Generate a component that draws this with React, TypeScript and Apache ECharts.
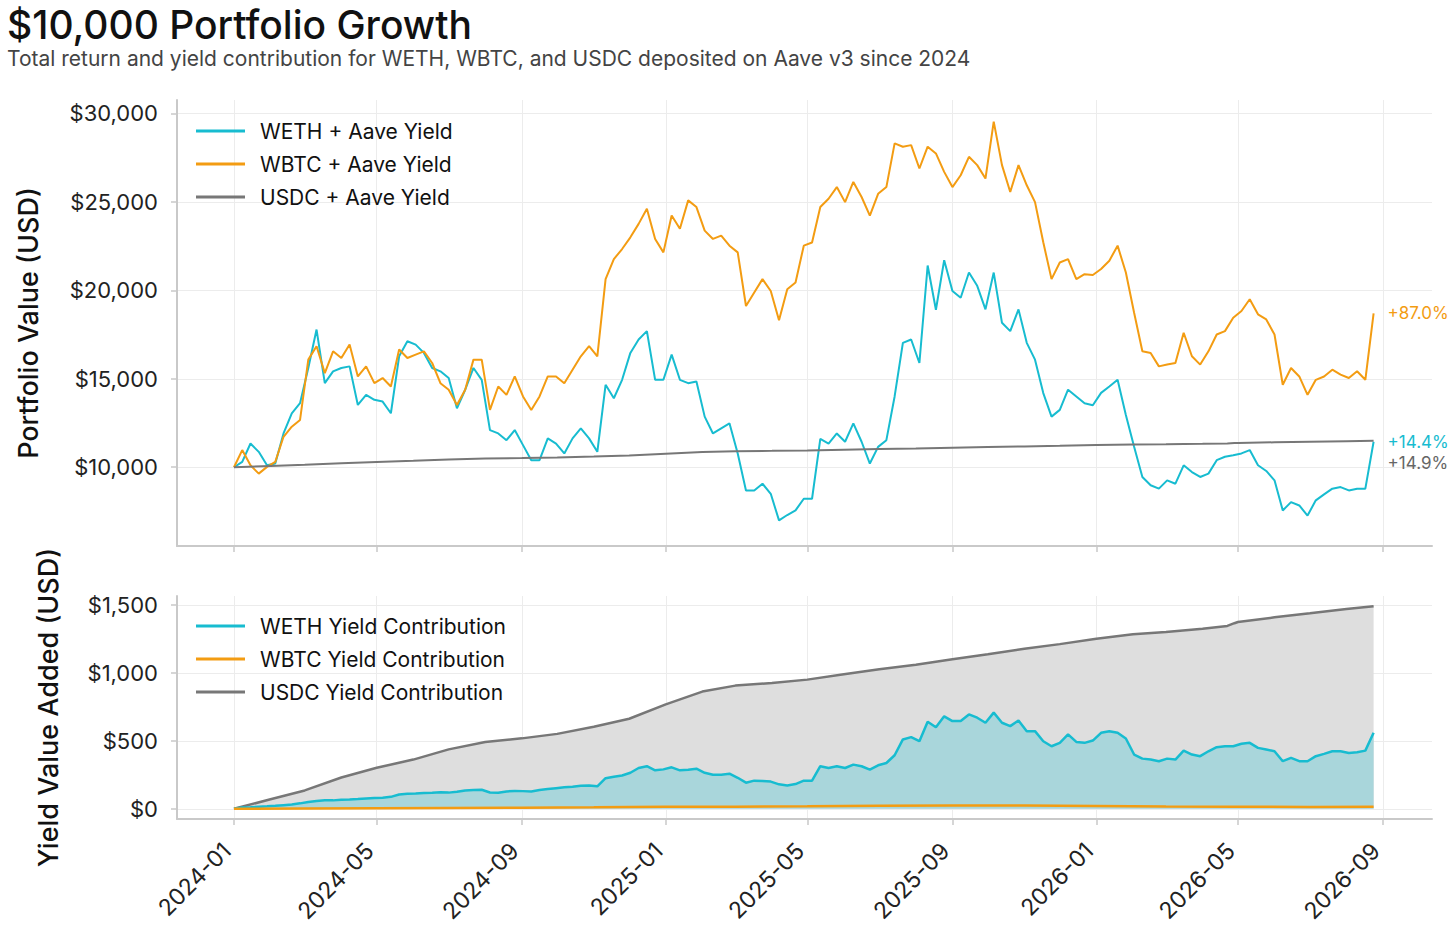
import React, { useEffect, useRef } from "react";
import * as echarts from "echarts";

const FONT = "Inter, 'Noto Sans', 'DejaVu Sans', sans-serif";

// ---- data ----
const weeklyStart = "2024-01-01"; // weekly samples, 7 days apart

const wethValue = [
  10000, 10300, 11340, 10870, 10110, 10210, 11910, 13050, 13620, 15610,
  17780, 14750, 15420, 15610, 15700, 13520, 14090, 13810, 13710, 13050,
  16270, 17120, 16930, 16460, 15610, 15420, 15040, 13330, 14380, 15610,
  14940, 12100, 11910, 11530, 12100, 11250, 10400, 10400, 11630, 11340,
  10780, 11630, 12200, 11630, 10870, 14660, 13900, 14940, 16460, 17220,
  17690, 14940, 14940, 16360, 14940, 14750, 14850, 12860, 11910, 12200,
  12480, 10780, 8690, 8690, 9070, 8500, 7000, 7300, 7560, 8220,
  8220, 11600, 11340, 11910, 11440, 12480, 11440, 10210, 11150, 11530,
  14000, 17030, 17220, 15890, 21400, 18900, 21700, 19960, 19580, 21000,
  20250, 18920, 21000, 18160, 17690, 18920, 17030, 16080, 14190, 12860,
  13240, 14380, 14000, 13620, 13500, 14200, 14560, 14940, 12950, 11160,
  9450, 8980, 8790, 9260, 9070, 10110, 9730, 9450, 9640, 10400,
  10590, 10680, 10780, 10970, 10110, 9790, 9260, 7560, 8030, 7840,
  7270, 8130, 8470, 8790, 8880, 8690, 8790, 8790, 11440,
];

const wbtcValue = [
  10000, 10970, 10110, 9640, 10020, 10300, 11720, 12290, 12670, 16080,
  16840, 15320, 16550, 16170, 16930, 15130, 15700, 14750, 15040, 14560,
  16650, 16170, 16360, 16550, 15890, 14750, 14380, 13520, 14380, 16080,
  16080, 13240, 14560, 14090, 15130, 14000, 13240, 14000, 15130, 15130,
  14750, 15510, 16270, 16840, 16270, 20630, 21760, 22330, 22990, 23750,
  24600, 22900, 22140, 24220, 23470, 25080, 24700, 23370, 22900, 23090,
  22520, 22140, 19110, 19870, 20630, 19960, 18300, 20060, 20440, 22520,
  22700, 24700, 25170, 25830, 24980, 26120, 25270, 24220, 25450, 25830,
  28300, 28110, 28200, 26880, 28110, 27730, 26690, 25830, 26500, 27540,
  27070, 26310, 29530, 27070, 25550, 27070, 25930, 24980, 22710, 20630,
  21570, 21760, 20630, 20910, 20860, 21200, 21670, 22520, 21000, 18730,
  16550, 16460, 15700, 15800, 15890, 17600, 16270, 15800, 16550, 17500,
  17690, 18450, 18830, 19490, 18640, 18350, 17500, 14660, 15610, 15130,
  14090, 14940, 15130, 15510, 15230, 15040, 15420, 14940, 18700,
];

const wethYield = [
  0, 10, 12, 15, 18, 22, 27, 32, 40, 50,
  58, 63, 62, 67, 69, 72, 76, 79, 82, 88,
  105, 111, 113, 116, 118, 121, 119, 125, 135, 138,
  140, 120, 118, 128, 131, 130, 128, 138, 146, 152,
  158, 162, 170, 172, 165, 225, 236, 245, 265, 300,
  313, 283, 290, 305, 283, 288, 295, 265, 251, 251,
  258, 228, 192, 207, 205, 200, 180, 172, 182, 207,
  207, 313, 300, 313, 300, 325, 313, 288, 320, 337,
  394, 510, 527, 497, 640, 600, 680, 645, 645, 694,
  670, 633, 707, 633, 608, 650, 571, 571, 497, 460,
  485, 547, 492, 485, 502, 559, 571, 559, 517, 399,
  369, 362, 350, 369, 362, 428, 399, 387, 423, 453,
  460, 460, 478, 485, 448, 436, 423, 350, 374, 350,
  350, 387, 404, 423, 423, 411, 416, 428, 559,
];

const usdcDates = [
  "2024-01-01", "2024-02-01", "2024-03-01", "2024-04-01", "2024-05-01", "2024-06-01",
  "2024-07-01", "2024-08-01", "2024-09-01", "2024-10-01", "2024-11-01", "2024-12-01",
  "2025-01-01", "2025-02-01", "2025-03-01", "2025-04-01", "2025-05-01", "2025-06-01",
  "2025-07-01", "2025-08-01", "2025-09-01", "2025-10-01", "2025-11-01", "2025-12-01",
  "2026-01-01", "2026-02-01", "2026-03-01", "2026-04-01", "2026-04-22", "2026-04-28",
  "2026-05-01", "2026-06-01", "2026-07-01", "2026-08-01", "2026-08-24",
];
const usdcValue = [
  10000, 10070, 10135, 10230, 10302, 10362,
  10437, 10492, 10518, 10551, 10603, 10662,
  10768, 10862, 10906, 10925, 10950, 10990,
  11026, 11060, 11100, 11137, 11177, 11211,
  11251, 11283, 11300, 11325, 11345, 11365,
  11374, 11408, 11438, 11470, 11490,
];
const usdcYield = [
  0, 70, 135, 230, 302, 362,
  437, 492, 518, 551, 603, 662,
  768, 862, 906, 925, 950, 990,
  1026, 1060, 1100, 1137, 1177, 1211,
  1251, 1283, 1300, 1325, 1345, 1365,
  1374, 1408, 1438, 1470, 1490,
];

const wbtcYieldDates = [
  "2024-01-01", "2024-03-01", "2024-05-01", "2024-07-01", "2024-09-01", "2024-11-01",
  "2025-01-01", "2025-03-01", "2025-05-01", "2025-07-01", "2025-09-01", "2025-11-01",
  "2026-01-01", "2026-03-01", "2026-05-01", "2026-07-01", "2026-08-24",
];
const wbtcYield = [0, 2, 4, 6, 8, 11, 15, 16, 18, 22, 25, 24, 21, 17, 16, 14, 15];

const xTickLabels = [
  "2024-01", "2024-05", "2024-09", "2025-01", "2025-05",
  "2025-09", "2026-01", "2026-05", "2026-09",
];
const yTicksTop = [10000, 15000, 20000, 25000, 30000];
const yTicksBottom = [0, 500, 1000, 1500];

const topNames = ["WETH + Aave Yield", "WBTC + Aave Yield", "USDC + Aave Yield"];
const bottomNames = ["WETH Yield Contribution", "WBTC Yield Contribution", "USDC Yield Contribution"];

// ---- styling ----
const CYAN = "#17bcd0";
const ORANGE = "#f39c12";
const GRAY = "#777777";
const AXIS = "#c9c9c9";
const GRID = "#ececec";

const DAY = 86400000;
const ts = (s: string) => Date.parse(s + "T00:00:00Z");
const weekly = (vals: number[]) => vals.map((v, i) => [ts(weeklyStart) + i * 7 * DAY, v]);
const dated = (dates: string[], vals: number[]) => vals.map((v, i) => [ts(dates[i]), v]);
const pct = (vals: number[]) => {
  const p = (vals[vals.length - 1] / vals[0] - 1) * 100;
  return (p >= 0 ? "+" : "") + p.toFixed(1) + "%";
};
const money = (v: number) => "$" + Math.round(v).toLocaleString("en-US");
const ym = (v: number) => {
  const d = new Date(v);
  return d.getUTCFullYear() + "-" + String(d.getUTCMonth() + 1).padStart(2, "0");
};

export default function App() {
  const ref = useRef<HTMLDivElement>(null);

  useEffect(() => {
    if (!ref.current) return;
    const chart = echarts.init(ref.current, undefined, { renderer: "svg" });

    const xMin = ts("2023-11-13") + 17 * 3600000;
    const xMax = ts("2026-10-12") + 12 * 3600000;
    const xTickVals = xTickLabels.map((l) => ts(l + "-01"));

    const xAxisBase = (idx: number, showLabels: boolean) => ({
      type: "value",
      gridIndex: idx,
      min: xMin,
      max: xMax,
      scale: true,
      axisLine: { show: true, onZero: false, lineStyle: { color: AXIS, width: 2 } },
      axisTick: { show: true, customValues: xTickVals, length: 6, lineStyle: { color: AXIS, width: 1.5 } },
      splitLine: { show: true, lineStyle: { color: GRID, width: 1 } },
      axisLabel: {
        show: showLabels,
        customValues: xTickVals,
        formatter: (v: number) => ym(v),
        rotate: 45,
        fontSize: 23,
        color: "#222",
        fontFamily: FONT,
        margin: 21,
        padding: [0, 10, 0, 0],
      },
    });

    const yAxisBase = (idx: number, min: number, max: number, ticks: number[], name: string, gap: number) => ({
      type: "value",
      gridIndex: idx,
      min,
      max,
      name,
      nameLocation: "middle",
      nameGap: gap,
      nameTextStyle: { fontSize: 27, fontWeight: 500, color: "#111", fontFamily: FONT },
      axisLine: { show: true, onZero: false, lineStyle: { color: AXIS, width: 2 } },
      axisTick: { show: true, customValues: ticks, length: 6, lineStyle: { color: AXIS, width: 1.5 } },
      splitLine: { show: true, lineStyle: { color: GRID, width: 1 } },
      axisLabel: {
        customValues: ticks,
        formatter: (v: number) => money(v),
        fontSize: 22,
        color: "#222",
        fontFamily: FONT,
        margin: 19,
      },
    });

    const endLbl = (text: string, color: string, offset: number[] = [0, 0]) => ({
      show: true,
      formatter: text,
      color,
      fontSize: 17,
      fontFamily: FONT,
      distance: 14,
      offset,
    });

    const option: any = {
      animation: false,
      backgroundColor: "#ffffff",
      textStyle: { fontFamily: FONT },
      title: {
        text: "$10,000 Portfolio Growth",
        subtext: "Total return and yield contribution for WETH, WBTC, and USDC deposited on Aave v3 since 2024",
        left: 2,
        top: 0,
        itemGap: 4,
        textStyle: { fontSize: 39, fontWeight: 500, color: "#111", fontFamily: FONT },
        subtextStyle: { fontSize: 21, color: "#444", fontFamily: FONT },
      },
      grid: [
        { left: 177, top: 100, width: 1255, height: 446 },
        { left: 177, top: 596, width: 1255, height: 223 },
      ],
      legend: [
        {
          data: topNames,
          orient: "vertical",
          left: 191,
          top: 115,
          icon: "rect",
          itemWidth: 49,
          itemHeight: 3,
          itemGap: 11,
          textStyle: { fontSize: 21, color: "#111", fontFamily: FONT, lineHeight: 22, padding: [0, 0, 0, 10] },
        },
        {
          data: bottomNames,
          orient: "vertical",
          left: 191,
          top: 610,
          icon: "rect",
          itemWidth: 49,
          itemHeight: 3,
          itemGap: 11,
          textStyle: { fontSize: 21, color: "#111", fontFamily: FONT, lineHeight: 22, padding: [0, 0, 0, 10] },
        },
      ],
      xAxis: [xAxisBase(0, false), xAxisBase(1, true)],
      yAxis: [
        yAxisBase(0, 5550, 30750, yTicksTop, "Portfolio Value (USD)", 135),
        yAxisBase(1, -75, 1565, yTicksBottom, "Yield Value Added (USD)", 115),
      ],
      series: [
        {
          name: topNames[0], type: "line", xAxisIndex: 0, yAxisIndex: 0,
          data: weekly(wethValue), showSymbol: false, color: CYAN,
          lineStyle: { width: 2, color: CYAN },
          endLabel: endLbl(pct(wethValue), CYAN),
        },
        {
          name: topNames[1], type: "line", xAxisIndex: 0, yAxisIndex: 0,
          data: weekly(wbtcValue), showSymbol: false, color: ORANGE,
          lineStyle: { width: 2, color: ORANGE },
          endLabel: endLbl(pct(wbtcValue), ORANGE),
        },
        {
          name: topNames[2], type: "line", xAxisIndex: 0, yAxisIndex: 0,
          data: dated(usdcDates, usdcValue), showSymbol: false, color: GRAY,
          lineStyle: { width: 2, color: GRAY },
          endLabel: endLbl(pct(usdcValue), "#666", [0, 22]),
        },
        {
          name: bottomNames[2], type: "line", xAxisIndex: 1, yAxisIndex: 1,
          data: dated(usdcDates, usdcYield), showSymbol: false, color: GRAY,
          lineStyle: { width: 2.5, color: GRAY },
          areaStyle: { color: "#dedede", opacity: 1 },
        },
        {
          name: bottomNames[0], type: "line", xAxisIndex: 1, yAxisIndex: 1,
          data: weekly(wethYield), showSymbol: false, color: CYAN,
          lineStyle: { width: 2.5, color: CYAN },
          areaStyle: { color: "#a9d6db", opacity: 1 },
        },
        {
          name: bottomNames[1], type: "line", xAxisIndex: 1, yAxisIndex: 1,
          data: dated(wbtcYieldDates, wbtcYield), showSymbol: false, color: ORANGE,
          lineStyle: { width: 2.5, color: ORANGE },
        },
      ],
    };

    chart.setOption(option);
    return () => chart.dispose();
  }, []);

  return (
    <div
      ref={ref}
      style={{ position: "absolute", left: 0, top: 0, width: 1456, height: 929, background: "#fff" }}
    />
  );
}
